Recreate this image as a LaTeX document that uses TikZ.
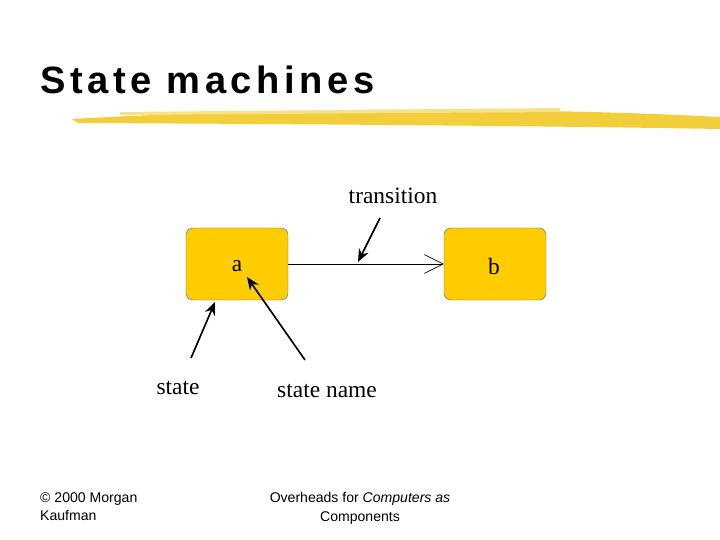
\documentclass[tikz,border=0pt]{standalone}
\usepackage{fontspec}
\setmainfont{Liberation Serif}
\newfontfamily\sans{Liberation Sans}
\newfontfamily\titlefont[LetterSpace=12]{Liberation Sans}
\usetikzlibrary{arrows.meta}
\definecolor{stategold}{HTML}{FFCC00}
\definecolor{brush}{HTML}{F2CE3A}
\tikzset{
  statebox/.style={draw=gray!85!black, fill=stategold, rounded corners=6pt, minimum width=3.06cm, minimum height=2.16cm},
  pointer/.style={line width=1.4pt, -{Stealth[length=11pt,width=9pt]}},
  lbl/.style={font=\fontsize{20}{24}\selectfont}
}
\begin{document}
\begin{tikzpicture}[x=0.03cm,y=-0.03cm]
\useasboundingbox (0,0) rectangle (720,540);
% title and brush stroke
\node[anchor=base west, inner sep=0pt, font=\titlefont\bfseries\fontsize{32.5}{36}\selectfont] (title) at (40,94) {State machines};
\fill[brush] (72,119) .. controls (300,106) and (550,108) .. (720,117) -- (720,129) .. controls (550,126) and (300,124) .. (78,123) -- cycle;
\fill[brush!60!white] (120,112) -- (560,108) -- (560,112) -- (120,115) -- cycle;
% states
\node[statebox] (a) at (237,264) {};
\node[statebox] (b) at (495,264) {};
\node[lbl] (la) at (237,266) {a};
\node[lbl] (lb) at (494,266) {b};
\draw[-{Straight Barb[length=16pt,width=16pt,line width=0.5pt]}, line width=0.5pt] (a.east) -- (b.west);
\coordinate (tr) at (358,262);
% labels
\node[lbl] (transition) at (393,196) {transition};
\node[lbl] (state) at (178,388) {state};
\node[lbl] (sname) at (327,391) {state name};
\draw[pointer] (380,218) -- (tr);
\draw[pointer] (191,358) -- (215,302);
\draw[pointer] (305,360) -- (247,277);
% footer
\node[anchor=north west, inner sep=0pt, align=left, font=\sans\fontsize{12}{16}\selectfont] (copy) at (40,492) {© 2000 Morgan\\Kaufman};
\node[anchor=north, inner sep=0pt, align=center, font=\sans\fontsize{12}{16}\selectfont] (over) at (360,492) {Overheads for \emph{Computers as}\\Components};
\end{tikzpicture}
\end{document}
